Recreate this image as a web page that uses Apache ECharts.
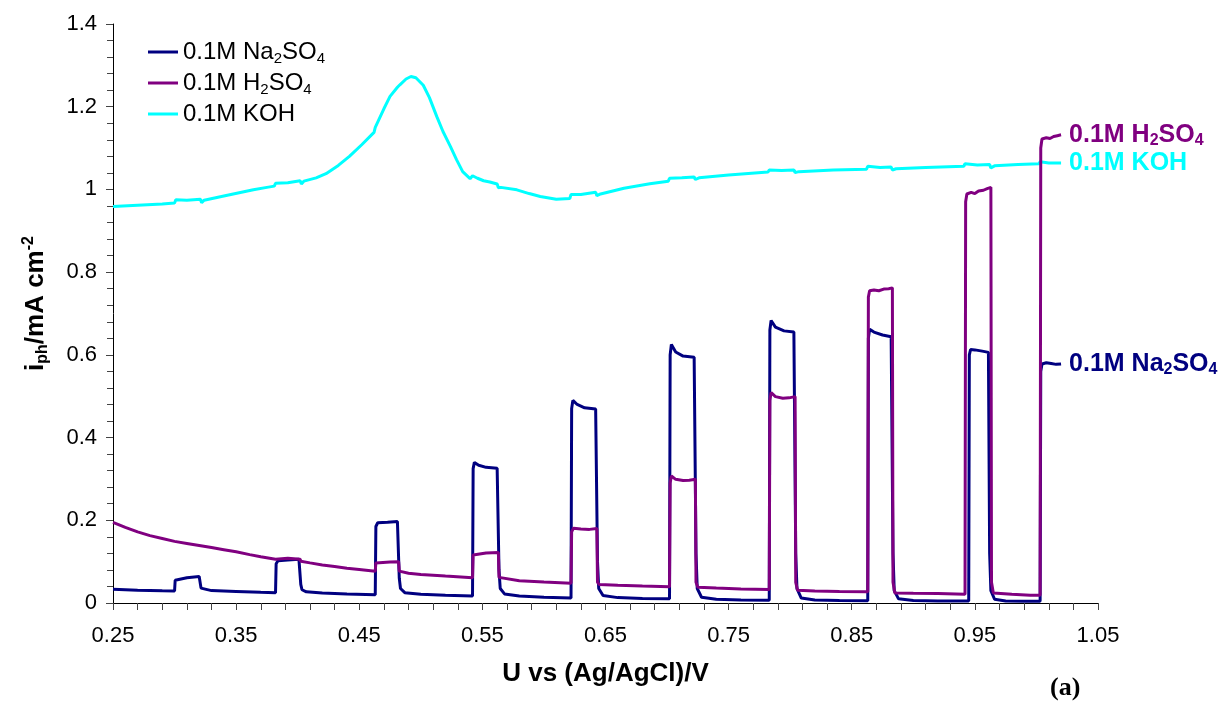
<!DOCTYPE html>
<html>
<head>
<meta charset="utf-8">
<title>Photocurrent vs potential</title>
<script src="https://cdn.jsdelivr.net/npm/echarts@6/dist/echarts.min.js"></script>
<style>
  html, body { margin: 0; padding: 0; background: #fff; }
  #chart { width: 1232px; height: 709px; }
</style>
</head>
<body>
<div id="chart"></div>
<script>
// Chopped-light photocurrent scans: [potential U (V vs Ag/AgCl), i_ph (mA cm^-2)]
const na2so4 = [
  [0.250,0.033],[0.270,0.031],[0.290,0.0295],[0.300,0.029],
  [0.3005,0.055],[0.302,0.059],[0.310,0.061],[0.320,0.064],[0.321,0.064],
  [0.3215,0.036],[0.323,0.032],[0.330,0.030],[0.350,0.028],[0.370,0.026],[0.382,0.025],
  [0.3825,0.095],[0.384,0.102],[0.392,0.104],[0.401,0.106],[0.402,0.106],
  [0.4025,0.045],[0.4035,0.032],[0.407,0.027],[0.420,0.024],[0.440,0.022],[0.463,0.020],
  [0.4635,0.185],[0.465,0.194],[0.473,0.195],[0.481,0.197],[0.482,0.197],
  [0.4825,0.060],[0.4835,0.035],[0.487,0.025],[0.500,0.021],[0.520,0.019],[0.542,0.017],
  [0.5425,0.325],[0.5435,0.340],[0.547,0.333],[0.553,0.328],[0.562,0.326],[0.563,0.325],
  [0.5635,0.080],[0.5645,0.035],[0.568,0.022],[0.580,0.017],[0.600,0.014],[0.622,0.012],
  [0.6225,0.470],[0.6235,0.490],[0.627,0.480],[0.633,0.472],[0.642,0.469],[0.643,0.468],
  [0.6435,0.100],[0.6445,0.035],[0.648,0.018],[0.660,0.013],[0.680,0.011],[0.702,0.0105],
  [0.7025,0.600],[0.7035,0.625],[0.707,0.607],[0.713,0.597],[0.722,0.594],[0.723,0.593],
  [0.7235,0.120],[0.7245,0.035],[0.728,0.014],[0.740,0.009],[0.760,0.007],[0.783,0.0065],
  [0.7835,0.660],[0.7845,0.683],[0.788,0.667],[0.795,0.658],[0.803,0.655],[0.804,0.654],
  [0.8045,0.120],[0.8055,0.035],[0.809,0.012],[0.820,0.007],[0.840,0.006],[0.863,0.0055],
  [0.8635,0.640],[0.8645,0.662],[0.868,0.655],[0.875,0.648],[0.882,0.644],[0.883,0.643],
  [0.8835,0.120],[0.8845,0.030],[0.888,0.010],[0.900,0.006],[0.920,0.005],[0.945,0.005],
  [0.9455,0.600],[0.9465,0.613],[0.950,0.612],[0.956,0.609],[0.961,0.606],[0.9615,0.605],
  [0.962,0.120],[0.963,0.030],[0.966,0.009],[0.975,0.005],[0.990,0.004],[1.003,0.004],
  [1.0035,0.560],[1.0045,0.578],[1.008,0.581],[1.012,0.579],[1.016,0.577],[1.020,0.578]
];

const h2so4 = [
  [0.250,0.195],[0.260,0.183],[0.270,0.172],[0.280,0.163],[0.290,0.156],[0.300,0.149],
  [0.310,0.144],[0.320,0.139],[0.330,0.134],[0.340,0.129],[0.350,0.124],[0.361,0.117],
  [0.370,0.112],[0.382,0.106],
  [0.3825,0.110],[0.392,0.108],[0.402,0.106],
  [0.4025,0.101],[0.410,0.097],[0.420,0.092],[0.430,0.088],[0.440,0.084],[0.450,0.081],[0.463,0.077],
  [0.4635,0.097],[0.465,0.099],[0.475,0.099],[0.482,0.100],
  [0.4825,0.077],[0.484,0.074],[0.490,0.072],[0.500,0.069],[0.520,0.065],[0.542,0.061],
  [0.5425,0.116],[0.544,0.120],[0.553,0.121],[0.563,0.122],
  [0.5635,0.062],[0.565,0.058],[0.580,0.054],[0.600,0.051],[0.622,0.048],
  [0.6225,0.172],[0.624,0.181],[0.630,0.179],[0.637,0.178],[0.643,0.180],
  [0.6435,0.050],[0.645,0.045],[0.660,0.043],[0.680,0.041],[0.702,0.039],
  [0.7025,0.290],[0.7035,0.307],[0.707,0.299],[0.713,0.296],[0.718,0.297],[0.723,0.299],
  [0.7235,0.050],[0.725,0.038],[0.740,0.036],[0.760,0.034],[0.783,0.0325],
  [0.7835,0.490],[0.7845,0.509],[0.788,0.499],[0.794,0.495],[0.799,0.496],[0.804,0.499],
  [0.8045,0.050],[0.806,0.031],[0.820,0.029],[0.840,0.028],[0.863,0.027],
  [0.8635,0.740],[0.8645,0.755],[0.868,0.757],[0.872,0.755],[0.876,0.759],[0.880,0.760],[0.883,0.762],
  [0.8835,0.050],[0.885,0.024],[0.900,0.0235],[0.920,0.023],[0.942,0.021],
  [0.9425,0.970],[0.9435,0.989],[0.947,0.993],[0.950,0.990],[0.953,0.996],[0.957,0.998],[0.960,1.002],[0.963,1.005],
  [0.9635,0.050],[0.965,0.024],[0.980,0.021],[0.995,0.019],[1.003,0.019],
  [1.0035,1.100],[1.0045,1.122],[1.008,1.125],[1.011,1.123],[1.014,1.128],[1.017,1.130],[1.020,1.132]
];

const koh = [
  [0.250,0.959],[0.270,0.962],[0.290,0.965],[0.300,0.967],
  [0.301,0.975],[0.310,0.974],[0.321,0.976],
  [0.322,0.968],[0.324,0.974],[0.340,0.984],[0.364,0.999],[0.375,1.005],[0.381,1.008],
  [0.382,1.015],[0.392,1.016],[0.402,1.021],
  [0.403,1.013],[0.405,1.020],[0.415,1.028],[0.423,1.038],[0.433,1.058],[0.442,1.080],[0.452,1.108],[0.462,1.138],
  [0.463,1.150],[0.470,1.195],[0.475,1.225],[0.481,1.247],
  [0.482,1.243],[0.483,1.253],[0.488,1.267],[0.492,1.273],[0.496,1.270],[0.502,1.252],[0.507,1.222],
  [0.513,1.176],[0.518,1.140],[0.524,1.104],[0.529,1.072],[0.534,1.043],[0.540,1.026],
  [0.542,1.033],[0.546,1.027],[0.551,1.021],[0.556,1.018],[0.562,1.013],
  [0.563,1.004],[0.565,1.005],[0.578,0.999],[0.588,0.990],[0.597,0.983],[0.610,0.9765],[0.621,0.978],
  [0.622,0.988],[0.630,0.988],[0.642,0.993],
  [0.643,0.985],[0.646,0.989],[0.665,1.003],[0.686,1.0135],[0.701,1.020],
  [0.702,1.027],[0.712,1.028],[0.722,1.030],
  [0.723,1.024],[0.726,1.028],[0.750,1.035],[0.782,1.042],
  [0.783,1.047],[0.793,1.046],[0.803,1.047],
  [0.804,1.041],[0.807,1.043],[0.835,1.047],[0.862,1.049],
  [0.863,1.056],[0.873,1.053],[0.882,1.054],
  [0.883,1.047],[0.886,1.050],[0.910,1.053],[0.941,1.056],
  [0.942,1.062],[0.952,1.059],[0.962,1.060],
  [0.963,1.052],[0.966,1.057],[0.985,1.060],[1.002,1.062],
  [1.003,1.067],[1.010,1.064],[1.020,1.064]
];

const seriesNames = ['0.1M Na2SO4', '0.1M H2SO4', '0.1M KOH'];
const seriesColors = ['#000080', '#800080', '#00FFFF'];
const xLabelValues = [0.25, 0.35, 0.45, 0.55, 0.65, 0.75, 0.85, 0.95, 1.05];
const yTickLabels = ['0', '0.2', '0.4', '0.6', '0.8', '1', '1.2', '1.4'];

// Tick marks every 0.02 V starting at 0.25 V
const xTickValues = [];
for (let k = 0; k <= 40; k++) xTickValues.push(+(0.25 + 0.02 * k).toFixed(2));

const SANS = '"Liberation Sans", Arial, sans-serif';
const SERIF = '"Liberation Serif", "Times New Roman", serif';

// Rich-text versions of the names with chemical subscripts
const richName = {
  '0.1M Na2SO4': '{n|0.1M Na}{s|2}{n|SO}{s|4}',
  '0.1M H2SO4': '{n|0.1M H}{s|2}{n|SO}{s|4}',
  '0.1M KOH': '{n|0.1M KOH}'
};

function richStyles(size, weight, color) {
  const base = { fontFamily: SANS, fontSize: size, fontWeight: weight, lineHeight: 28 };
  if (color) base.color = color;
  const sub = { fontFamily: SANS, fontSize: Math.round(size * 0.62), fontWeight: weight,
    lineHeight: 15, verticalAlign: 'bottom' };
  if (color) sub.color = color;
  return { n: base, s: sub };
}

const chart = echarts.init(document.getElementById('chart'), null, { renderer: 'canvas' });

const series = [na2so4, h2so4, koh].map((data, i) => ({
  name: seriesNames[i],
  type: 'line',
  data: data,
  showSymbol: false,
  symbol: 'none',
  smooth: false,
  z: [3, 4, 2][i],
  lineStyle: { color: seriesColors[i], width: 3 },
  itemStyle: { color: seriesColors[i] },
  endLabel: {
    show: true,
    distance: 8,
    formatter: () => richName[seriesNames[i]],
    rich: richStyles(25, 'bold', seriesColors[i])
  }
}));

chart.setOption({
  animation: false,
  backgroundColor: '#ffffff',
  grid: { left: 113, right: 134, top: 24, bottom: 106, containLabel: false },
  legend: {
    orient: 'vertical',
    left: 143,
    top: 35,
    icon: 'rect',
    itemWidth: 30,
    itemHeight: 3,
    itemGap: 5,
    data: seriesNames,
    formatter: name => richName[name],
    textStyle: { rich: richStyles(24, 'normal', '#000') }
  },
  xAxis: {
    type: 'value',
    min: 0.25,
    max: 1.05,
    name: 'U vs (Ag/AgCl)/V',
    nameLocation: 'middle',
    nameGap: 58,
    nameTextStyle: { fontFamily: SANS, fontSize: 26, fontWeight: 'bold', color: '#000' },
    axisLine: { onZero: false, lineStyle: { color: '#000', width: 1 } },
    axisTick: { show: true, inside: false, length: 7, customValues: xTickValues,
      lineStyle: { color: '#444', width: 1 } },
    axisLabel: { customValues: xLabelValues, margin: 22,
      fontFamily: SANS, fontSize: 22, color: '#000',
      formatter: v => v.toFixed(2) },
    splitLine: { show: false }
  },
  yAxis: {
    type: 'value',
    min: 0,
    max: 1.4,
    interval: 0.2,
    name: '{b|i}{p|ph}{b|/mA cm}{u|-2}',
    nameLocation: 'middle',
    nameGap: 62,
    nameTextStyle: {
      padding: [0, 0, 0, 20],
      rich: {
        b: { fontFamily: SANS, fontSize: 26, fontWeight: 'bold', color: '#000', lineHeight: 30 },
        p: { fontFamily: SANS, fontSize: 16, fontWeight: 'bold', color: '#000', lineHeight: 16, verticalAlign: 'bottom' },
        u: { fontFamily: SANS, fontSize: 16, fontWeight: 'bold', color: '#000', lineHeight: 16, verticalAlign: 'top' }
      }
    },
    axisLine: { show: true, lineStyle: { color: '#000', width: 1 } },
    axisTick: { show: true, inside: false, length: 7, lineStyle: { color: '#444', width: 1 } },
    minorTick: { show: true, splitNumber: 5, length: 6, lineStyle: { color: '#444', width: 1 } },
    axisLabel: { margin: 16, fontFamily: SANS, fontSize: 22, color: '#000',
      formatter: v => yTickLabels[Math.round(v / 0.2)] },
    splitLine: { show: false },
    minorSplitLine: { show: false }
  },
  graphic: [{
    type: 'text',
    left: 1050,
    top: 675,
    style: { text: '(a)', font: 'bold 26px ' + SERIF, fill: '#000' }
  }],
  series: series
});
</script>
</body>
</html>
